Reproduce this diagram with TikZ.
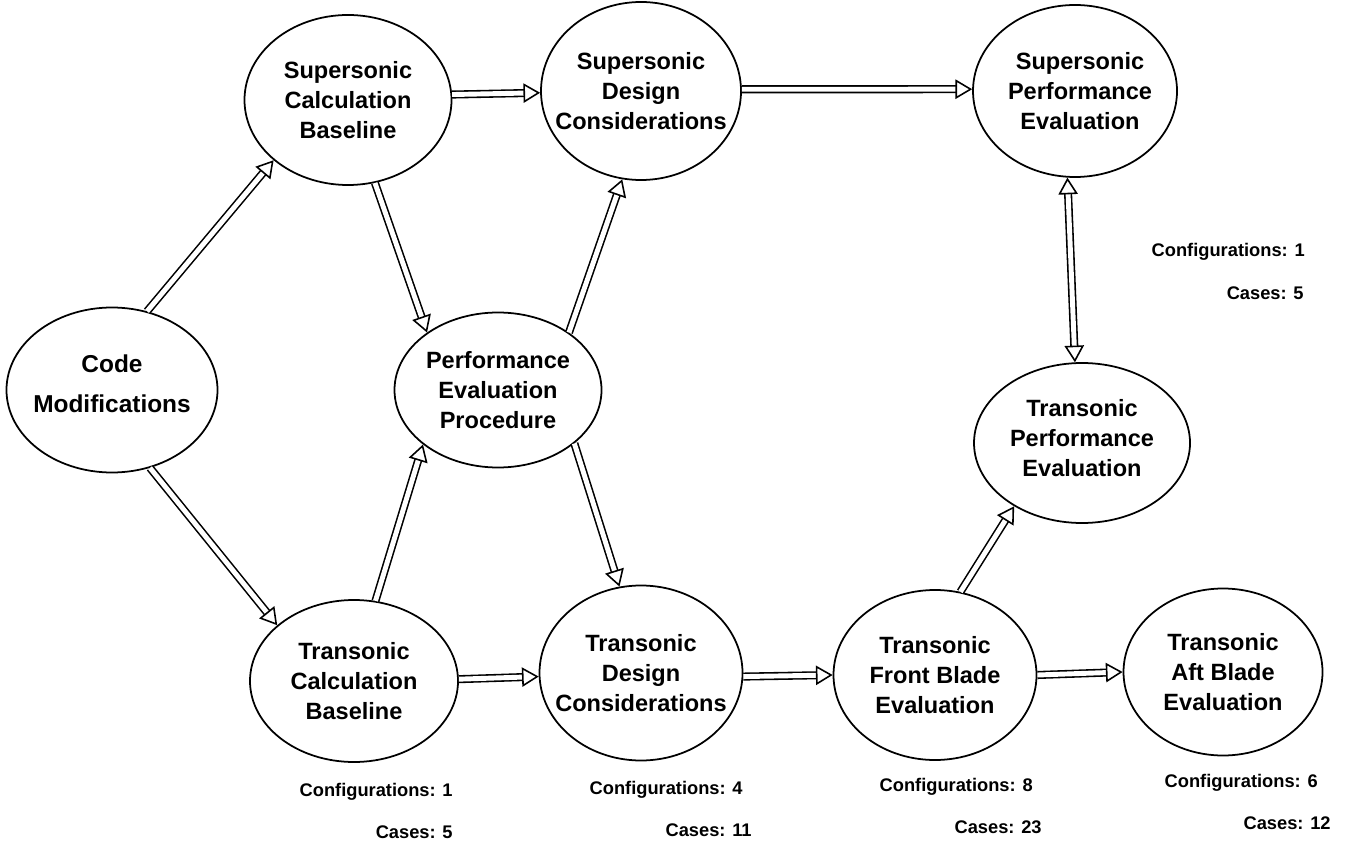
\documentclass[tikz,border=0pt]{standalone}
\usepackage{fontspec}
\setmainfont{Liberation Sans}
\usetikzlibrary{arrows.meta,shapes.geometric}
\tikzset{bubble/.style={ellipse,draw,line width=1pt,inner sep=0pt},
 words/.style={align=center,inner sep=0pt,font=\bfseries\fontsize{13.4}{17}\selectfont},
 hol/.tip={Triangle[open,length=9.5pt,width=11pt,line width=0.9pt]},
 flow/.style={double,double distance=2.8pt,line width=0.9pt,-hol},
 both/.style={flow,hol-hol},
 tally/.style={anchor=east,inner sep=0pt,font=\bfseries\fontsize{10.4}{12}\selectfont}}

\begin{document}
\begin{tikzpicture}[x=0.2mm,y=-0.2mm]
\useasboundingbox (0,0) rectangle (1346,846);
% nodes
\node[bubble,minimum width=42.2mm,minimum height=33mm,label={[words,font=\bfseries\fontsize{13.9}{22.7}\selectfont,yshift=1.2mm]center:{Code\\Modifications}}] (code) at (112,390) {};
\node[bubble,minimum width=41.4mm,minimum height=34mm,label={[words]center:{Supersonic\\Calculation\\Baseline}}] (supcalc) at (348,100) {};
\node[bubble,minimum width=40mm,minimum height=35.6mm,label={[words]center:{Supersonic\\Design\\Considerations}}] (supdes) at (641,91) {};
\node[bubble,minimum width=40.8mm,minimum height=34.4mm,label={[words,xshift=1mm]center:{Supersonic\\Performance\\Evaluation}}] (supperf) at (1075,91) {};
\node[bubble,minimum width=41.4mm,minimum height=31mm,label={[words]center:{Performance\\Evaluation\\Procedure}}] (perfproc) at (498,390) {};
\node[bubble,minimum width=43.2mm,minimum height=32mm,label={[words,yshift=1mm]center:{Transonic\\Performance\\Evaluation}}] (transperf) at (1082,443) {};
\node[bubble,minimum width=41.6mm,minimum height=32.4mm,label={[words]center:{Transonic\\Calculation\\Baseline}}] (transcalc) at (354,681) {};
\node[bubble,minimum width=40.6mm,minimum height=35mm,label={[words]center:{Transonic\\Design\\Considerations}}] (transdes) at (641,673) {};
\node[bubble,minimum width=40.6mm,minimum height=34mm,label={[words]center:{Transonic\\Front Blade\\Evaluation}}] (front) at (935,675) {};
\node[bubble,minimum width=39.8mm,minimum height=33.4mm,label={[words]center:{Transonic\\Aft Blade\\Evaluation}}] (aft) at (1223,672) {};
% connectors
\draw[flow] (code.66) -- (supcalc.219);
\draw[flow] (code.296) -- (transcalc.144);
\draw[flow] (supcalc.3) -- (supdes.181);
\draw[flow] (supdes.1) -- (supperf.179);
\draw[flow] (supcalc.288) -- (perfproc.141);
\draw[flow] (perfproc.39) -- (supdes.258);
\draw[flow] (transcalc.75) -- (perfproc.216);
\draw[flow] (perfproc.325) -- (transdes.104);
\draw[flow] (transcalc.1) -- (transdes.182);
\draw[flow] (transdes.358) -- (front.180);
\draw[flow] (front.0) -- (aft.180);
\draw[flow] (front.73) -- (transperf.223);
\draw[both] (supperf.265) -- (transperf.95);
% counts
\node[tally] (cfgsp) at (1305,252) {Configurations: 1};
\node[tally] (cassp) at (1304,293) {Cases: 5};
\node[tally] (cfgtc) at (453,792) {Configurations: 1};
\node[tally] (castc) at (453,832) {Cases: 5};
\node[tally] (cfgtd) at (743,790) {Configurations: 4};
\node[tally] (castd) at (752,830) {Cases: 11};
\node[tally] (cfgfb) at (1033,787) {Configurations: 8};
\node[tally] (casfb) at (1042,827) {Cases: 23};
\node[tally] (cfgab) at (1318,783) {Configurations: 6};
\node[tally] (casab) at (1331,823) {Cases: 12};
\end{tikzpicture}
\end{document}
